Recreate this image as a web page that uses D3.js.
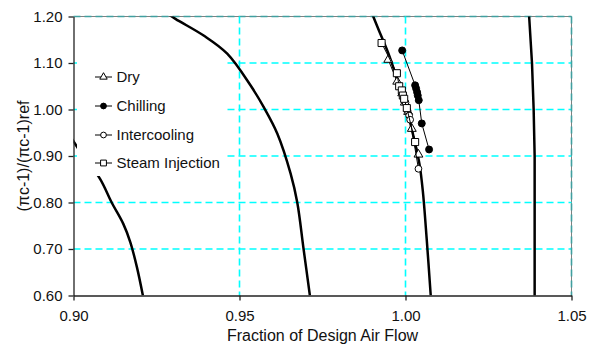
<!DOCTYPE html>
<html>
<head>
<meta charset="utf-8">
<script src="https://cdn.jsdelivr.net/npm/d3@7/dist/d3.min.js"></script>
<style>
  html, body { margin: 0; padding: 0; background: #fff; }
  svg { display: block; font-family: "Liberation Sans", Arial, sans-serif; }
</style>
</head>
<body>
<svg id="chart" width="599" height="347"></svg>
<script>
// Axis ticks
const xTicks = [0.90, 0.95, 1.00, 1.05];
const yTicks = [0.60, 0.70, 0.80, 0.90, 1.00, 1.10, 1.20];

// Constant-speed lines (fraction of design air flow, pressure-ratio ratio)
const speed1X = [0.8975, 0.8997, 0.9012, 0.9080, 0.9115, 0.9150, 0.9171, 0.9191, 0.9209];
const speed1Y = [0.955, 0.935, 0.918, 0.851, 0.800, 0.754, 0.715, 0.661, 0.600];
const speed2X = [0.9267, 0.9307, 0.9392, 0.9463, 0.9533, 0.9573, 0.9614, 0.9654, 0.9674, 0.9693, 0.9712];
const speed2Y = [1.214, 1.195, 1.159, 1.120, 1.052, 1.005, 0.948, 0.862, 0.800, 0.700, 0.600];
const speed3X = [0.9900, 0.9920, 0.9951, 0.9976, 1.0007, 1.0027, 1.0042, 1.0052, 1.0064, 1.0076];
const speed3Y = [1.205, 1.170, 1.116, 1.062, 0.991, 0.933, 0.883, 0.826, 0.720, 0.600];
const speed4X = [1.0372, 1.0381, 1.0386, 1.0389, 1.0389, 1.0389];
const speed4Y = [1.205, 1.100, 1.000, 0.900, 0.750, 0.598];

// Operating points
const dryX = [0.9948, 0.9975, 0.9990, 0.9998, 1.0008, 1.0019, 1.0039];
const dryY = [1.107, 1.060, 1.035, 1.015, 0.995, 0.9585, 0.9032];
const chillX = [0.9990, 1.0029, 1.0032, 1.0035, 1.0037, 1.0040, 1.0049, 1.0071];
const chillY = [1.127, 1.052, 1.045, 1.037, 1.030, 1.020, 0.970, 0.914];
const interX = [0.9992, 1.0000, 1.0006, 1.0011, 1.0014, 1.0039];
const interY = [1.035, 1.015, 0.998, 0.987, 0.978, 0.8725];
const steamX = [0.9928, 0.9974, 0.9981, 0.9989, 0.9992, 0.9996, 1.0004, 1.0029];
const steamY = [1.143, 1.078, 1.050, 1.041, 1.030, 1.023, 1.003, 0.930];

const seriesNames = ["Dry", "Chilling", "Intercooling", "Steam Injection"];

const svg = d3.select("#chart");
const L = 73.5, R = 571.5, T = 16.5, B = 295.5;

const x = d3.scaleLinear().domain([0.90, 1.05]).range([L, R]);
const y = d3.scaleLinear().domain([0.60, 1.20]).range([B, T]);

const zip = (xs, ys) => xs.map((v, i) => [v, ys[i]]);

// clip region for curves
svg.append("defs").append("clipPath").attr("id", "plot-clip")
  .append("rect").attr("x", L).attr("y", T).attr("width", R - L).attr("height", B - T);

// plot frame (top and right)
svg.append("path")
  .attr("d", `M${L},${T}H${R}V${B}`)
  .attr("fill", "none").attr("stroke", "#808080").attr("stroke-width", 1);

// gridlines
const grid = svg.append("g");
grid.selectAll("line.h").data(yTicks.filter(d => d > 0.6)).join("line")
  .attr("class", "h")
  .attr("x1", L).attr("x2", R)
  .attr("y1", d => y(d)).attr("y2", d => y(d))
  .attr("stroke", d => d === 1.20 ? "#40a0a0" : "#00ffff")
  .attr("stroke-width", 1.6)
  .attr("stroke-dasharray", "7,4");
grid.selectAll("line.v").data(xTicks.filter(d => d > 0.9)).join("line")
  .attr("class", "v")
  .attr("y1", T).attr("y2", B)
  .attr("x1", d => x(d)).attr("x2", d => x(d))
  .attr("stroke", d => d === 1.05 ? "#40a0a0" : "#00ffff")
  .attr("stroke-width", 1.6)
  .attr("stroke-dasharray", "7,4");

// speed lines
const curveLine = d3.line()
  .x(d => x(d[0])).y(d => y(d[1]))
  .curve(d3.curveCatmullRom.alpha(0.5));
const speedG = svg.append("g").attr("clip-path", "url(#plot-clip)");
[zip(speed1X, speed1Y), zip(speed2X, speed2Y), zip(speed3X, speed3Y)].forEach(pts => {
  speedG.append("path").attr("d", curveLine(pts))
    .attr("fill", "none").attr("stroke", "#000").attr("stroke-width", 2.5);
});
speedG.append("path")
  .attr("d", d3.line().x(d => x(d[0])).y(d => y(d[1]))(zip(speed4X, speed4Y)))
  .attr("fill", "none").attr("stroke", "#000").attr("stroke-width", 2.5);

// axes
const axisFont = "15px";
const yAxis = svg.append("g").attr("transform", `translate(${L},0)`)
  .call(d3.axisLeft(y).tickValues(yTicks).tickFormat(d3.format(".2f")).tickSize(5).tickSizeOuter(0).tickPadding(6));
const xAxis = svg.append("g").attr("transform", `translate(0,${B})`)
  .call(d3.axisBottom(x).tickValues(xTicks).tickFormat(d3.format(".2f")).tickSize(5).tickSizeOuter(0).tickPadding(10));
[yAxis, xAxis].forEach(a => {
  a.select(".domain").attr("stroke", "#222").attr("stroke-width", 1.3);
  a.selectAll(".tick line").attr("stroke", "#222").attr("stroke-width", 1.3);
  a.selectAll(".tick text").attr("fill", "#111").style("font-size", axisFont)
    .style("font-family", '"Liberation Sans", Arial, sans-serif');
});

// axis titles
svg.append("text")
  .attr("x", (L + R) / 2).attr("y", 341)
  .attr("text-anchor", "middle").attr("fill", "#111")
  .style("font-size", "16px")
  .text("Fraction of Design Air Flow");
svg.append("text")
  .attr("transform", `translate(29,${(T + B) / 2}) rotate(-90)`)
  .attr("text-anchor", "middle").attr("fill", "#111")
  .style("font-size", "16px")
  .text("(\u03c0c-1)/(\u03c0c-1)ref");

// series
const seriesLine = d3.line().x(d => x(d[0])).y(d => y(d[1]));
const series = [
  { pts: zip(dryX, dryY), type: d3.symbolTriangle, size: 34, fill: "#fff" },
  { pts: zip(chillX, chillY), type: d3.symbolCircle, size: 38, fill: "#000" },
  { pts: zip(interX, interY), type: d3.symbolCircle, size: 36, fill: "#fff" },
  { pts: zip(steamX, steamY), type: d3.symbolSquare, size: 50, fill: "#fff" }
];
series.forEach(s => {
  const g = svg.append("g");
  g.append("path").attr("d", seriesLine(s.pts))
    .attr("fill", "none").attr("stroke", "#000").attr("stroke-width", 1);
  g.selectAll("path.m").data(s.pts).join("path").attr("class", "m")
    .attr("transform", d => `translate(${x(d[0])},${y(d[1])})`)
    .attr("d", d3.symbol().type(s.type).size(s.size))
    .attr("fill", s.fill).attr("stroke", "#000").attr("stroke-width", 1);
});

// legend
const lg = svg.append("g");
lg.append("rect").attr("x", 77).attr("y", 62).attr("width", 150).attr("height", 114).attr("fill", "#fff");
const rowY = [77, 106, 135, 163];
const legSizes = [24, 26, 26, 34];
series.forEach((s, i) => {
  const ry = rowY[i];
  lg.append("line").attr("x1", 95).attr("x2", 112).attr("y1", ry).attr("y2", ry)
    .attr("stroke", "#000").attr("stroke-width", 1);
  lg.append("path").attr("transform", `translate(103.5,${ry})`)
    .attr("d", d3.symbol().type(s.type).size(legSizes[i]))
    .attr("fill", s.fill).attr("stroke", "#000").attr("stroke-width", 1);
  lg.append("text").attr("x", 116.5).attr("y", ry).attr("dy", "0.35em")
    .attr("fill", "#111").style("font-size", "15px").text(seriesNames[i]);
});
</script>
</body>
</html>
